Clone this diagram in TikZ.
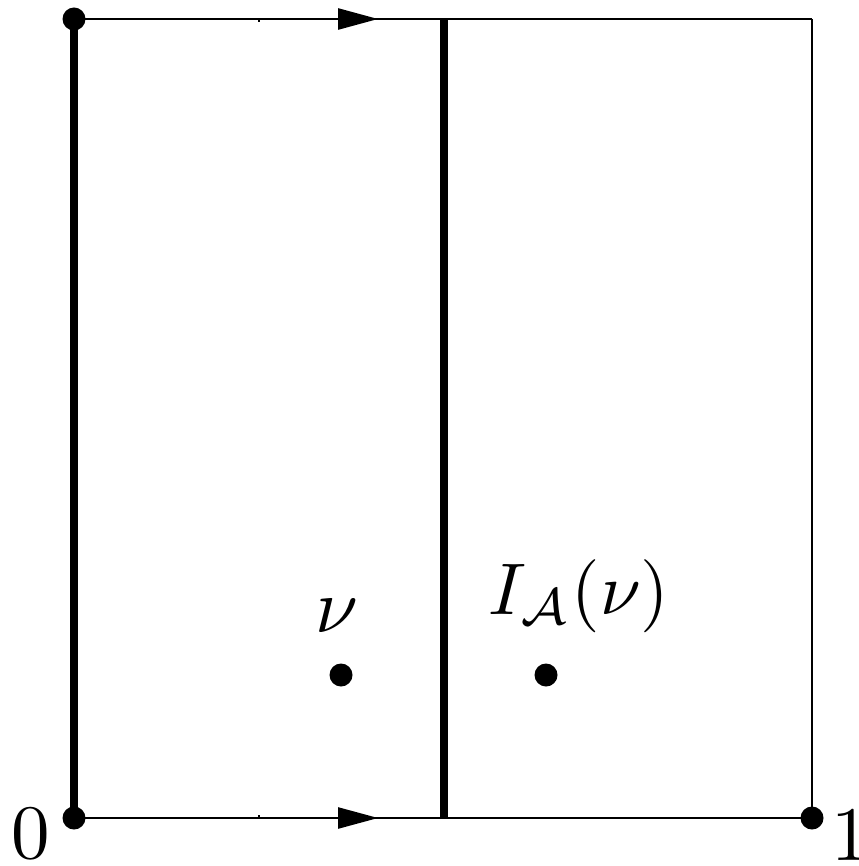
\documentclass[tikz,border=0pt]{standalone}
\usetikzlibrary{arrows.meta,decorations.markings}
\begin{document}
\begin{tikzpicture}[x=1pt,y=-1pt,
  thinline/.style={line width=2.5pt},
  thickline/.style={line width=8pt},
  dotmark/.style={circle,fill=black,inner sep=0pt,minimum size=23pt},
  lbl/.style={inner sep=0pt,anchor=base,scale=7.7},
  midarrow/.style={postaction={decorate,decoration={markings,
     mark=at position 0.412 with {\arrow{Triangle[length=40pt,width=21pt]}}}}}]
\useasboundingbox (0,0) rectangle (858,866);
% corners
\coordinate (TL) at (74,19);
\coordinate (BL) at (74,818);
\coordinate (TR) at (812,19);
\coordinate (BR) at (812,818);
\coordinate (TM) at (443.5,19);
\coordinate (BM) at (443.5,818);
\coordinate (TQ) at (259,19);
\coordinate (BQ) at (259,818);
% thin frame lines
\draw[thinline,midarrow] (TL) -- (TR);
\draw[thinline,midarrow] (BL) -- (BR);
\draw[thinline] (TR) -- (BR);
% small ticks
\draw[line width=2.5pt] (TQ) -- ++(0,3.5);
\draw[line width=2.5pt] (BQ) -- ++(0,-3.5);
% thick lines
\draw[thickline] (TL) -- (BL);
\draw[thickline] (TM) -- (BM);
% dots
\node[dotmark] (d1) at (TL) {};
\node[dotmark] (d2) at (BL) {};
\node[dotmark] (d3) at (BR) {};
\node[dotmark] (nu) at (341,675) {};
\node[dotmark] (ia) at (546,675) {};
% labels
\node[lbl] (l0) at (31,858) {0};
\node[lbl,anchor=base west] (l1) at (830,860) {1};
\node[lbl] (lnu) at (337,632) {$\nu$};
\node[lbl,scale=0.95] (lia) at (579,614) {$I_{\mathcal{A}}(\nu)$};
\end{tikzpicture}
\end{document}
